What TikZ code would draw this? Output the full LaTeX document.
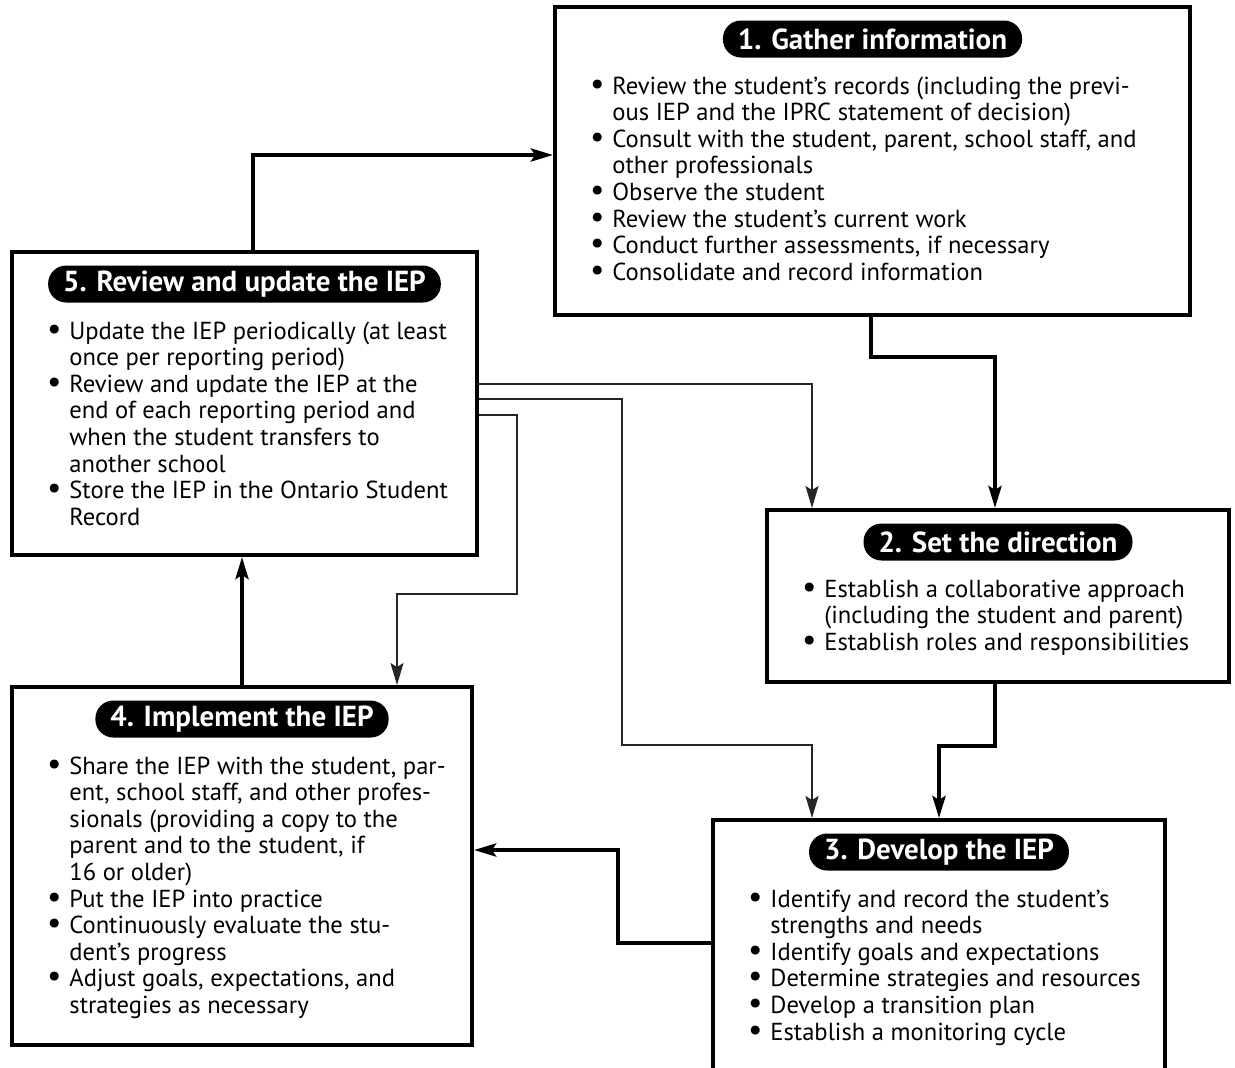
\documentclass[tikz,border=0pt]{standalone}
\usepackage{fontspec}
\usepackage{graphicx}
\setmainfont{PT Sans}
\usetikzlibrary{calc, positioning}
\usetikzlibrary{arrows.meta}
\tikzset{
    stage/.style = {
        draw, rectangle, line width=2pt, inner sep=0pt, anchor=north west
    },
    badge/.style = {
        fill=black, text=white, rounded corners=9pt, inner xsep=7.5pt, inner ysep=0pt,
        minimum height=18.5pt, font=\fontsize{14.5}{16}\selectfont\bfseries
    },
    tasks/.style = {
        anchor=north west, inner sep=0pt, align=left, font=\fontsize{12.3}{13.3}\selectfont
    },
    flow/.style = {line width=2pt, -{Stealth[length=11pt, width=6.5pt, inset=2pt]}},
    link/.style = {line width=0.75pt, black!85, -{Stealth[length=11pt, width=6.5pt, inset=2pt]}},
}
\newcommand{\stepdot}{\makebox[6pt][c]{\scalebox{1.3}{\textbullet}}}
\newenvironment{steplist}{\begin{tabular}{@{}p{10.5pt}@{}l@{}}}{\end{tabular}}

\begin{document}
\begin{tikzpicture}[x=0.5pt, y=-0.5pt]
        \useasboundingbox (0,0) rectangle (1235,1067);

        % The five stages
        \node[stage, minimum width=317.5pt, minimum height=154pt] (b1) at (553,5) {};
        \node[stage, minimum width=231pt, minimum height=86pt] (b2) at (765,508) {};
        \node[stage, minimum width=226pt, minimum height=150pt] (b3) at (711,818) {};
        \node[stage, minimum width=230pt, minimum height=179pt] (b4) at (10,685) {};
        \node[stage, minimum width=232.5pt, minimum height=151.5pt] (b5) at (10,250) {};

        % Headings
        \node[badge] (h1) at ([yshift=-17pt]b1.north) {1. Gather information};
        \node[badge] (h2) at ([yshift=-17pt]b2.north) {2. Set the direction};
        \node[badge] (h3) at ([yshift=-17pt]b3.north) {3. Develop the IEP};
        \node[badge] (h4) at ([yshift=-17pt]b4.north) {4. Implement the IEP};
        \node[badge] (h5) at ([yshift=-17pt]b5.north) {5. Review and update the IEP};

        % Task lists
        \node[tasks] (t1) at ([xshift=19pt, yshift=-35pt]b1.north west) {\begin{steplist}
            \stepdot & Review the student's records (including the previ-\\
                     & ous IEP and the IPRC statement of decision)\\
            \stepdot & Consult with the student, parent, school staff, and\\
                     & other professionals\\
            \stepdot & Observe the student\\
            \stepdot & Review the student's current work\\
            \stepdot & Conduct further assessments, if necessary\\
            \stepdot & Consolidate and record information
        \end{steplist}};
        \node[tasks] (t2) at ([xshift=19pt, yshift=-35pt]b2.north west) {\begin{steplist}
            \stepdot & Establish a collaborative approach\\
                     & (including the student and parent)\\
            \stepdot & Establish roles and responsibilities
        \end{steplist}};
        \node[tasks] (t3) at ([xshift=19pt, yshift=-35pt]b3.north west) {\begin{steplist}
            \stepdot & Identify and record the student's\\
                     & strengths and needs\\
            \stepdot & Identify goals and expectations\\
            \stepdot & Determine strategies and resources\\
            \stepdot & Develop a transition plan\\
            \stepdot & Establish a monitoring cycle
        \end{steplist}};
        \node[tasks] (t4) at ([xshift=19pt, yshift=-35pt]b4.north west) {\begin{steplist}
            \stepdot & Share the IEP with the student, par-\\
                     & ent, school staff, and other profes-\\
                     & sionals (providing a copy to the\\
                     & parent and to the student, if\\
                     & 16 or older)\\
            \stepdot & Put the IEP into practice\\
            \stepdot & Continuously evaluate the stu-\\
                     & dent's progress\\
            \stepdot & Adjust goals, expectations, and\\
                     & strategies as necessary
        \end{steplist}};
        \node[tasks] (t5) at ([xshift=19pt, yshift=-35pt]b5.north west) {\begin{steplist}
            \stepdot & Update the IEP periodically (at least\\
                     & once per reporting period)\\
            \stepdot & Review and update the IEP at the\\
                     & end of each reporting period and\\
                     & when the student transfers to\\
                     & another school\\
            \stepdot & Store the IEP in the Ontario Student\\
                     & Record
        \end{steplist}};

        % Main cycle
        \draw[flow] ([xshift=4.25pt]b5.north) |- ([yshift=3pt]b1.west);
        \draw[flow] ([xshift=-0.75pt]b1.south) -- ++(0,-20pt) -| ([xshift=-1.5pt]b2.north);
        \draw[flow] ([xshift=-1.5pt]b2.south) -- ++(0,-31pt) -| (b3.north);
        \draw[flow] ([yshift=-62.5pt]b3.north west) -- ++(-46.5pt,0) |- ([yshift=8pt]b4.east);
        \draw[flow] (b4.north) -- (b4.north |- b5.south);

        % Links back from the review
        \draw[link] ([yshift=9.75pt]b5.east) -| ([xshift=-93pt]b2.north);
        \draw[link] ([yshift=2.25pt]b5.east) -- ++(71.5pt,0) -- ++(0,-173pt) -| ([xshift=-63.5pt]b3.north);
        \draw[link] ([yshift=-5.75pt]b5.east) -- ++(19pt,0) -- ++(0,-89.5pt) -| ([xshift=77.5pt]b4.north);
    \end{tikzpicture}
\end{document}
